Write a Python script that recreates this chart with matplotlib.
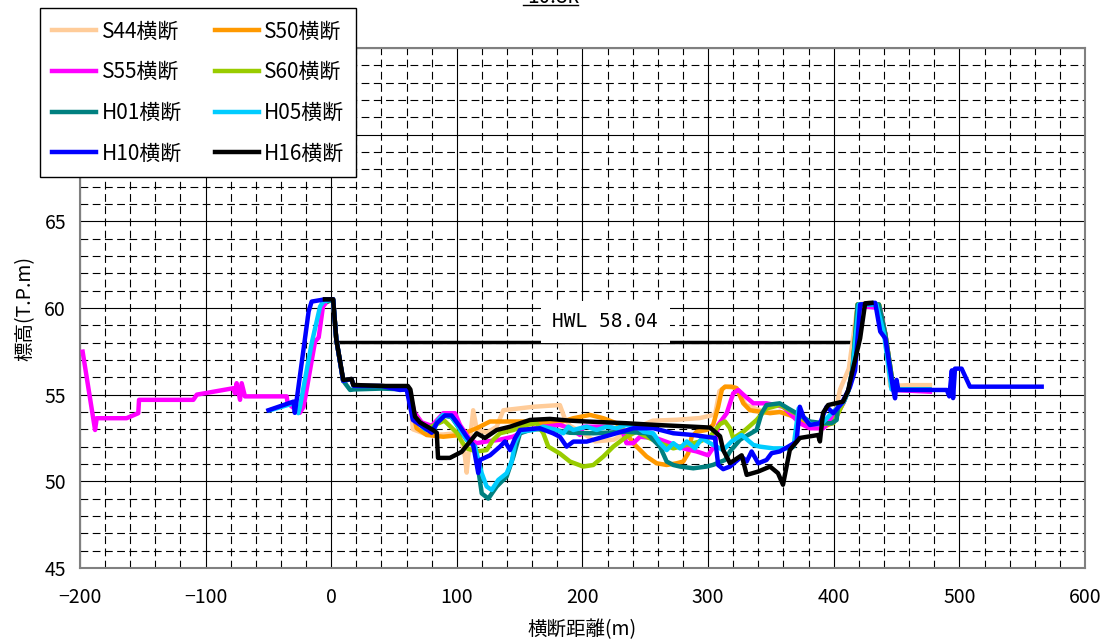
import numpy as np
import matplotlib
matplotlib.use("Agg")
import matplotlib.pyplot as plt
from matplotlib.ticker import MultipleLocator
from matplotlib.lines import Line2D

plt.rcParams['font.family'] = ['Noto Sans CJK JP', 'DejaVu Sans']

# 横断データ (距離 m, 標高 T.P.m)
s44_x = [-2, 1.5, 4, 9.5, 16, 18, 40, 60, 63, 65, 76, 89, 102.5, 106.5, 107.8, 110.4, 113, 115.8, 123.7,
         131.7, 137, 160.8, 182, 186, 190, 200, 210, 225, 240, 256, 275, 293.5, 305.5, 309, 313.5, 322, 330,
         345, 357, 373, 390, 400, 405, 412, 419, 428, 436, 441, 444.8, 460, 476.6]
s44_y = [60.4, 60.5, 58.2, 55.8, 55.9, 55.5, 55.5, 55.4, 54.5, 53.0, 52.7, 52.7, 52.8, 51.4, 50.5, 52.4, 54.1,
         53.0, 52.8, 53.15, 54.1, 54.3, 54.4, 53.6, 53.2, 52.8, 52.3, 52.4, 53.0, 53.5, 53.55, 53.65, 53.85,
         55.2, 55.45, 55.4, 54.4, 54.0, 54.0, 53.6, 53.2, 53.5, 55.3, 56.5, 60.2, 60.3, 60.2, 58.5, 55.5,
         55.55, 55.55]

s50_x = [-2, 1.5, 4, 9.5, 16, 18, 40, 60, 63, 68, 76, 89.2, 102.5, 115.8, 126.4, 139.6, 155.5, 168.8, 182,
         192.7, 206, 216.6, 227, 235, 240.4, 251, 259, 267, 275, 280.2, 284.2, 286.9, 290.9, 298.8, 304, 308,
         311, 313.5, 318.7, 322.7, 328, 333.3, 349.3, 357.2, 365, 373, 381, 391, 400, 404, 408, 412, 415,
         419, 436, 441, 445, 447.5, 476]
s50_y = [60.4, 60.5, 58.2, 55.8, 55.9, 55.5, 55.5, 55.4, 54.6, 53.06, 52.67, 52.57, 52.67, 53.06, 53.45,
         53.45, 53.45, 53.35, 53.4, 53.64, 53.83, 53.64, 53.35, 52.77, 52.2, 51.43, 51.04, 50.94, 51.04,
         51.14, 51.62, 52.57, 52.86, 52.96, 53.25, 54.3, 55.3, 55.46, 55.46, 55.37, 54.5, 54.1, 53.93, 54.0,
         53.83, 53.54, 53.2, 53.1, 53.4, 54.0, 54.6, 55.3, 56.5, 60.2, 60.2, 58.5, 56.6, 55.3, 55.3]

s55_x = [-197.9, -188, -186.7, -162.9, -153.6, -153, -109.8, -107, -78, -76.6, -75.3, -72.6, -71.3, -68.7,
         -35.5, -34.7, -25, -22, -12.9, -10, -6.6, -3, 1.5, 4, 9.5, 16, 18, 40, 60, 62, 66, 72, 80, 89.2,
         98.5, 102.5, 110.4, 115.8, 123.7, 134.3, 144.9, 155.5, 168.8, 182, 190, 198, 200.6, 208.6, 222,
         232.5, 235, 240.4, 245.8, 259, 269.7, 280.2, 290.9, 300, 305.5, 308, 314.8, 320, 324, 328, 336,
         346.5, 359.8, 373, 381, 391.7, 402.3, 407.6, 412, 415, 420, 425, 436.8, 441, 444.8, 447.4, 476.6]
s55_y = [57.48, 52.96, 53.64, 53.64, 53.93, 54.7, 54.7, 55.0, 55.37, 55.08, 55.66, 54.7, 55.66, 54.9, 54.9,
         54.5, 53.95, 54.3, 58.06, 58.3, 60.08, 60.4, 60.5, 58.2, 55.8, 55.9, 55.5, 55.5, 55.4, 55.3, 54.0,
         53.4, 53.2, 53.93, 53.93, 53.25, 52.4, 52.2, 52.3, 52.4, 52.58, 52.96, 53.15, 53.25, 53.06, 52.67,
         53.15, 53.15, 53.15, 52.77, 52.2, 52.2, 52.57, 52.48, 52.2, 51.9, 51.72, 51.5, 52.1, 53.25, 53.93,
         55.08, 55.27, 55.0, 54.5, 54.5, 54.3, 53.35, 53.06, 53.06, 53.93, 54.5, 55.3, 56.5, 60.1, 60.08,
         60.0, 58.54, 56.6, 55.27, 55.17]

s60_x = [-2, 1.5, 4, 9.5, 16, 18, 40, 60, 63, 66, 75, 90, 100, 103.8, 107.8, 115.8, 123.7, 129, 134.3, 145,
         155.5, 163.5, 168.8, 172.8, 182, 190, 200.6, 208.6, 216.6, 224.5, 235, 243, 251, 261.7, 272.3, 283,
         293.6, 301.5, 309.5, 313.5, 317.4, 320, 328, 338.6, 346.5, 357, 370, 381, 391, 399.6, 404, 408,
         412, 415, 419, 436, 441, 445, 447.5, 476]
s60_y = [60.4, 60.5, 58.2, 55.8, 55.9, 55.5, 55.5, 55.4, 54.8, 53.8, 53.0, 53.5, 52.8, 52.3, 51.9, 51.72,
         51.8, 52.4, 52.77, 52.96, 53.25, 53.35, 52.77, 52.0, 51.6, 51.14, 50.85, 50.94, 51.43, 52.0, 52.57,
         52.86, 52.57, 52.2, 51.9, 52.1, 52.3, 52.57, 53.3, 53.45, 53.06, 52.48, 52.86, 53.54, 54.2, 54.4,
         53.9, 53.4, 53.3, 53.35, 54.0, 54.6, 55.3, 56.5, 60.2, 60.2, 58.5, 56.6, 55.3, 55.3]

h01_x = [-2, 1.5, 4, 9.5, 15, 18, 40, 60, 63, 66, 80, 85, 89, 95.8, 101, 107.8, 114.4, 119.8, 125, 131.7,
         139.6, 145, 150.2, 160, 175, 190, 208.6, 235, 251, 261.7, 267, 272.3, 277.6, 288.2, 298.8, 304,
         313.5, 317.4, 325.4, 338.6, 342.6, 346.5, 357, 363.8, 370.4, 381, 391.7, 398.3, 402.3, 403.6, 408,
         412, 415, 419, 436, 441, 445, 447.5, 476]
h01_y = [60.4, 60.5, 58.2, 55.8, 55.27, 55.3, 55.35, 55.3, 55.1, 53.6, 52.9, 53.5, 53.8, 53.7, 53.15, 52.4,
         52.0, 49.3, 49.0, 49.7, 50.27, 51.43, 52.77, 53.0, 53.0, 52.8, 52.77, 52.86, 52.77, 52.0, 51.14,
         50.94, 50.85, 50.75, 50.85, 50.95, 51.23, 51.72, 52.4, 52.96, 53.93, 54.4, 54.5, 54.2, 53.93,
         53.45, 53.35, 53.35, 53.54, 54.5, 54.6, 55.3, 56.5, 60.2, 60.2, 58.5, 56.6, 55.3, 55.3]

h05_x = [-48.8, -30, -26.2, -24.9, -15.6, -8.9, -6.4, 1.5, 4, 9.5, 16, 18, 40, 60, 62, 65, 75, 81, 85.2,
         89, 95.8, 101.1, 107.8, 114.4, 119.8, 123.7, 127.7, 133, 139.6, 143.6, 146.3, 150.2, 160.8, 168.8,
         179.4, 184.7, 188.7, 192.7, 198, 203.3, 211.2, 219.2, 227.1, 235, 243, 248.4, 256.3, 261.7, 267,
         272.3, 277.6, 283, 289.5, 294.9, 304, 312, 318.7, 326.7, 336, 341.3, 351.9, 365, 368, 372, 376,
         381, 390, 398.3, 404, 408, 412, 415, 420, 434, 440, 446, 476]
h05_y = [54.1, 54.5, 53.93, 54.3, 57.96, 60.08, 60.37, 60.5, 58.2, 55.8, 55.9, 55.5, 55.5, 55.4, 55.3, 53.6,
         53.0, 52.86, 53.54, 53.83, 53.73, 53.15, 52.4, 52.0, 50.46, 49.7, 49.5, 50.08, 50.46, 51.13, 52.2,
         52.86, 52.96, 53.15, 52.96, 52.77, 53.15, 52.96, 53.06, 53.15, 52.96, 53.15, 53.06, 53.25, 53.15,
         52.86, 52.77, 52.2, 51.8, 52.2, 51.9, 52.3, 51.9, 52.48, 52.1, 51.8, 52.3, 52.67, 52.1, 52.0, 51.9,
         51.9, 52.0, 54.2, 53.7, 53.3, 53.3, 53.93, 54.3, 54.6, 55.3, 56.5, 60.2, 60.2, 58.5, 55.3, 55.3]

h10_x = [-50, -30, -29, -27.5, -18, -15.6, -5, 1.5, 4, 9.5, 16, 18, 40, 54.7, 60, 65, 80, 84, 90.5, 95.8,
         102.5, 107.8, 113, 117, 118.4, 126.4, 134.3, 138.3, 142.3, 146.3, 150.2, 166, 176.5, 182, 187.4,
         192.7, 203.3, 222, 240.5, 256.5, 272.3, 288.2, 305.5, 308, 312, 317.4, 326.7, 330.7, 334.6, 339.9,
         346.5, 350.5, 357, 363.8, 370.4, 373, 375.8, 381, 389, 394.3, 399.6, 406.3, 413, 417, 421, 433,
         437, 441, 447.4, 448.8, 450, 451.4, 490, 492, 494, 495, 496.5, 501.8, 508.4, 565.5]
h10_y = [54.1, 54.6, 53.95, 54.7, 59.8, 60.37, 60.5, 60.5, 58.2, 55.8, 55.9, 55.5, 55.5, 55.27, 55.3, 53.54,
         52.8, 53.35, 53.8, 53.8, 53.15, 52.57, 52.1, 50.48, 51.23, 51.5, 52.0, 52.3, 51.8, 52.48, 52.96,
         53.06, 52.77, 52.57, 52.0, 52.29, 52.29, 52.67, 53.06, 53.06, 52.77, 52.67, 52.5, 50.94, 50.7,
         50.85, 51.43, 51.14, 51.72, 51.04, 51.23, 51.62, 51.72, 52.0, 52.29, 54.3, 53.73, 53.25, 53.35,
         54.3, 53.93, 54.5, 55.46, 56.4, 60.2, 60.3, 58.64, 58.25, 55.27, 54.79, 55.85, 55.27, 55.27, 54.9,
         56.4, 54.8, 56.5, 56.5, 55.46, 55.46]

h16_x = [-5, 1.5, 4, 9.6, 16.2, 17.5, 40, 61, 63, 66.7, 70.6, 81, 84, 85, 94.5, 103.8, 115.8, 122.4, 131.7,
         142.3, 158.2, 174, 190, 203.3, 235, 259, 288, 301.5, 309.5, 312, 317.4, 326.7, 330.7, 339.8, 349.3,
         355.6, 359.6, 365, 373, 387.5, 389, 391.5, 395.5, 407.5, 411.3, 415, 421, 425, 430]
h16_y = [60.5, 60.5, 58.2, 55.85, 55.9, 55.56, 55.5, 55.5, 55.3, 53.73, 53.4, 52.96, 52.8, 51.35, 51.35,
         51.7, 52.77, 52.5, 52.96, 53.15, 53.54, 53.6, 53.5, 53.45, 53.35, 53.25, 53.15, 53.1, 52.6, 51.8,
         51.05, 51.5, 50.37, 50.56, 50.85, 50.47, 49.8, 51.8, 52.5, 52.67, 52.3, 53.95, 54.4, 54.6, 55.2,
         56.4, 58.25, 60.27, 60.3]

labels = ['S44横断', 'S50横断', 'S55横断', 'S60横断', 'H01横断', 'H05横断', 'H10横断', 'H16横断']
colors = ['#FFCC99', '#FF9900', '#FF00FF', '#99CC00', '#008080', '#00CCFF', '#0000FF', '#000000']

hwl_x = [3, 416]
hwl_level = 58.04

fig = plt.figure(figsize=(11.11, 6.41), dpi=100)
ax = fig.add_axes([0.072, 0.114, 0.9046, 0.811])

series = [(s44_x, s44_y), (s50_x, s50_y), (s55_x, s55_y), (s60_x, s60_y),
          (h01_x, h01_y), (h05_x, h05_y), (h10_x, h10_y), (h16_x, h16_y)]
handles = []
for (xs, ys), lab, c in zip(series, labels, colors):
    ln, = ax.plot(xs, ys, color=c, lw=3.2, label=lab, solid_joinstyle='round', zorder=3)
    handles.append(ln)

# HWL
ax.plot(hwl_x, [hwl_level, hwl_level], color='black', lw=2.5, zorder=2)
ax.text(218, 59.2, 'HWL 58.04', family='DejaVu Sans Mono', fontsize=14, ha='center', va='center',
        bbox=dict(boxstyle='square,pad=0.6', fc='white', ec='none'), zorder=2.5)

ax.set_xlim(-200, 600)
ax.set_ylim(45, 75)
ax.xaxis.set_major_locator(MultipleLocator(100))
ax.xaxis.set_minor_locator(MultipleLocator(20))
ax.yaxis.set_major_locator(MultipleLocator(5))
ax.yaxis.set_minor_locator(MultipleLocator(1))
ax.grid(which='major', color='black', lw=0.8)
ax.grid(which='minor', color='black', lw=0.8, linestyle=(0, (7, 4)))
ax.set_axisbelow(True)
ax.tick_params(which='both', length=0, labelsize=14)
ax.tick_params(axis='x', pad=14)
ax.tick_params(axis='y', pad=10)
for s in ax.spines.values():
    s.set_color('#808080')
    s.set_linewidth(1.5)

ax.set_xlabel('横断距離(m)', fontsize=14, labelpad=8)
ax.set_ylabel('標高(T.P.m)', fontsize=14, labelpad=6)

fig.text(0.4975, 1 - 3 / 641, '10.8k', fontsize=15, ha='center', va='baseline')
fig.add_artist(Line2D([523 / 1111, 578 / 1111], [1 - 5 / 641, 1 - 5 / 641], color='black', lw=1))

# 行方向に並べる凡例 (2列)
order = [0, 2, 4, 6, 1, 3, 5, 7]
fig.legend([handles[i] for i in order], [labels[i] for i in order], ncol=2, loc='upper left',
           bbox_to_anchor=(0.036, 1 - 8 / 641), borderaxespad=0,
           fontsize=15, frameon=True, fancybox=False, framealpha=1, edgecolor='black',
           handlelength=2.1, handletextpad=0.25, columnspacing=1.6, labelspacing=0.9,
           borderpad=0.6)

fig.savefig('out.png', dpi=100)
